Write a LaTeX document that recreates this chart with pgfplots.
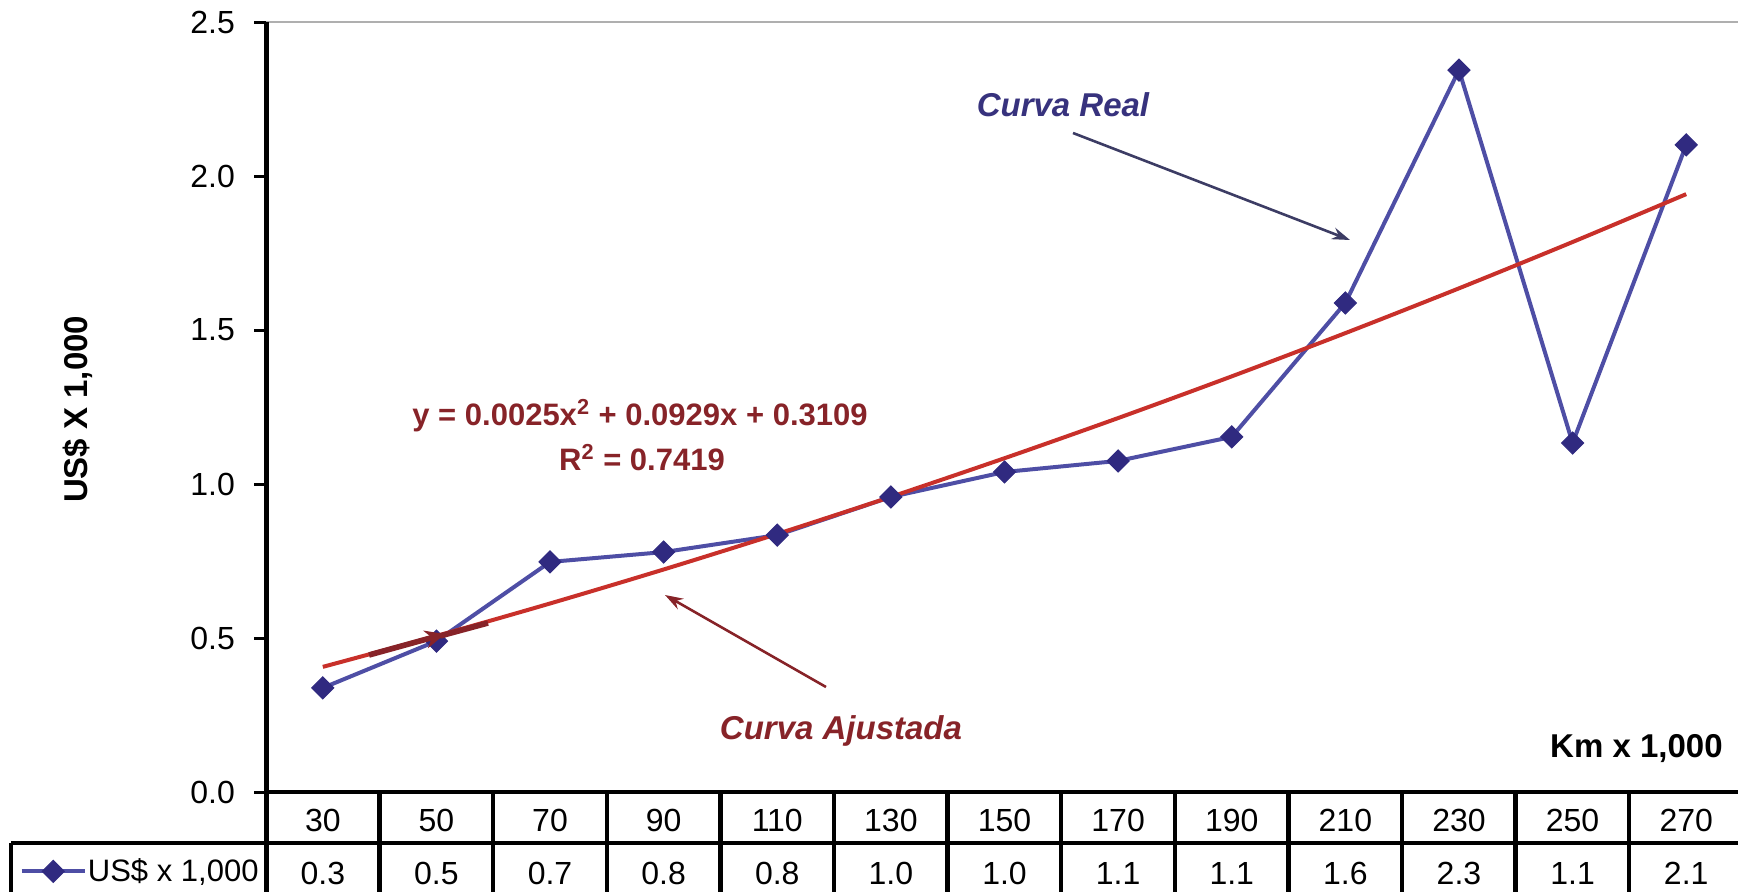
\documentclass[border=0pt]{standalone}
\usepackage{fontspec}
\setmainfont{Liberation Sans}
\usepackage{pgfplots}
\pgfplotsset{compat=1.18}
\usetikzlibrary{arrows.meta}
\definecolor{dataline}{RGB}{78,78,165}
\definecolor{datamark}{RGB}{48,42,128}
\definecolor{trend}{RGB}{200,48,42}
\definecolor{darkred}{RGB}{135,35,40}
\definecolor{realtxt}{RGB}{55,50,125}
\definecolor{realarrow}{RGB}{60,60,100}
\definecolor{topgray}{RGB}{175,175,175}
\newcommand\tabfont{\fontsize{16}{19}\selectfont}
\begin{document}
\begin{tikzpicture}
\useasboundingbox (0,0) rectangle (869pt,445.5pt);
\clip (0,0) rectangle (869pt,445.5pt);
\begin{axis}[
  at={(133pt,49.5pt)}, anchor=south west,
  scale only axis, width=738.5pt, height=385pt,
  xmin=0.5, xmax=13.5, ymin=0, ymax=2.5,
  clip=false,
  axis line style={draw=none},
  tick align=outside,
  major tick length=6pt,
  /pgf/number format/assume math mode=true,
  ytick={0,0.5,1,1.5,2,2.5},
  yticklabel style={/pgf/number format/fixed, /pgf/number format/fixed zerofill, /pgf/number format/precision=1, xshift=-6pt},
  ytick style={black, line width=1.5pt},
  xtick={1,...,13},
  xticklabels={30,50,70,90,110,130,150,170,190,210,230,250,270},
  xtick style={draw=none},
  xticklabel style={anchor=base, yshift=-13.5pt},
  tick label style={font=\tabfont, black},
  ylabel={US\$ X 1,000},
  ylabel style={at={(axis description cs:-0.1273,0.497)}, anchor=center, font=\fontsize{16.5}{19}\bfseries\selectfont},
  xlabel={Km x 1,000},
  xlabel style={at={(axis description cs:0.991,0.0442)}, anchor=base east, font=\fontsize{16.5}{19}\bfseries\selectfont},
  legend style={draw=none, fill=none, at={(axis description cs:-0.167,-0.103)}, anchor=west, inner sep=0pt, font=\fontsize{15.5}{18}\selectfont, nodes={inner sep=0.6pt}},
  legend image code/.code={\draw[mark repeat=2,mark phase=2,#1] plot coordinates {(0pt,0pt) (15.75pt,0pt) (31.5pt,0pt)};},
]
\addplot[dataline, line width=2pt, mark=square*, mark size=3.9pt,
  mark options={rotate=45, fill=datamark, draw=datamark, line width=0.5pt}]
  coordinates {(1,0.338) (2,0.490) (3,0.747) (4,0.779) (5,0.834) (6,0.958) (7,1.039)
               (8,1.075) (9,1.153) (10,1.588) (11,2.344) (12,1.133) (13,2.101)};
\addlegendentry{US\$ x 1,000}
\addplot[trend, line width=2pt, smooth, forget plot]
  coordinates {(1,0.4063) (2,0.5067) (3,0.6121) (4,0.7225) (5,0.8379) (6,0.9583) (7,1.0837)
               (8,1.2141) (9,1.3495) (10,1.4899) (11,1.6353) (12,1.7857) (13,1.9411)};
\foreach \v [count=\i] in {0.3,0.5,0.7,0.8,0.8,1.0,1.0,1.1,1.1,1.6,2.3,1.1,2.1} {
  \edef\temp{\noexpand\node[font=\noexpand\tabfont, text=black, anchor=center] at (axis cs:\i,-0.264) {\v};}
  \temp
}
\end{axis}
\begin{scope}[x=0.5pt, y=-0.5pt, shift={(0pt,445.5pt)}]
  \draw[topgray, line width=1pt] (266,22) -- (1740,22);
  \draw[black, line width=2.5pt] (266,22) -- (266,893);
  \draw[black, line width=2.2pt] (264,792) -- (1740,792);
  \draw[black, line width=2.2pt] (11,843) -- (1740,843);
  \draw[black, line width=2.2pt] (11,843) -- (11,893);
  \foreach \k in {1,...,13} \draw[black, line width=2.2pt] ({266+113.6*\k},792) -- ({266+113.6*\k},893);
  \node[font=\fontsize{16.5}{19}\bfseries\itshape\selectfont, text=realtxt, anchor=base] at (1063,117) {Curva Real};
  \draw[realarrow, line width=1.3pt, -{Stealth[length=9pt,width=6pt]}] (1073,133) -- (1350,240);
  \node[font=\fontsize{15.5}{18}\bfseries\selectfont, text=darkred, anchor=base] at (640,425) {y = 0.0025x\textsuperscript{2} + 0.0929x + 0.3109};
  \node[font=\fontsize{15.5}{18}\bfseries\selectfont, text=darkred, anchor=base] at (642,470) {R\textsuperscript{2} = 0.7419};
  \node[font=\fontsize{16.5}{19}\bfseries\itshape\selectfont, text=darkred, anchor=base] at (841,739) {Curva Ajustada};
  \draw[darkred, line width=1.3pt, -{Stealth[length=9pt,width=6pt]}] (826,687) -- (665,595);
  \draw[darkred, line width=2.8pt, -{Stealth[length=10pt,width=9pt]}] (369,655) -- (445,634);
  \draw[darkred, line width=2.8pt] (440,636) -- (488,623);
\end{scope}
\end{tikzpicture}
\end{document}
